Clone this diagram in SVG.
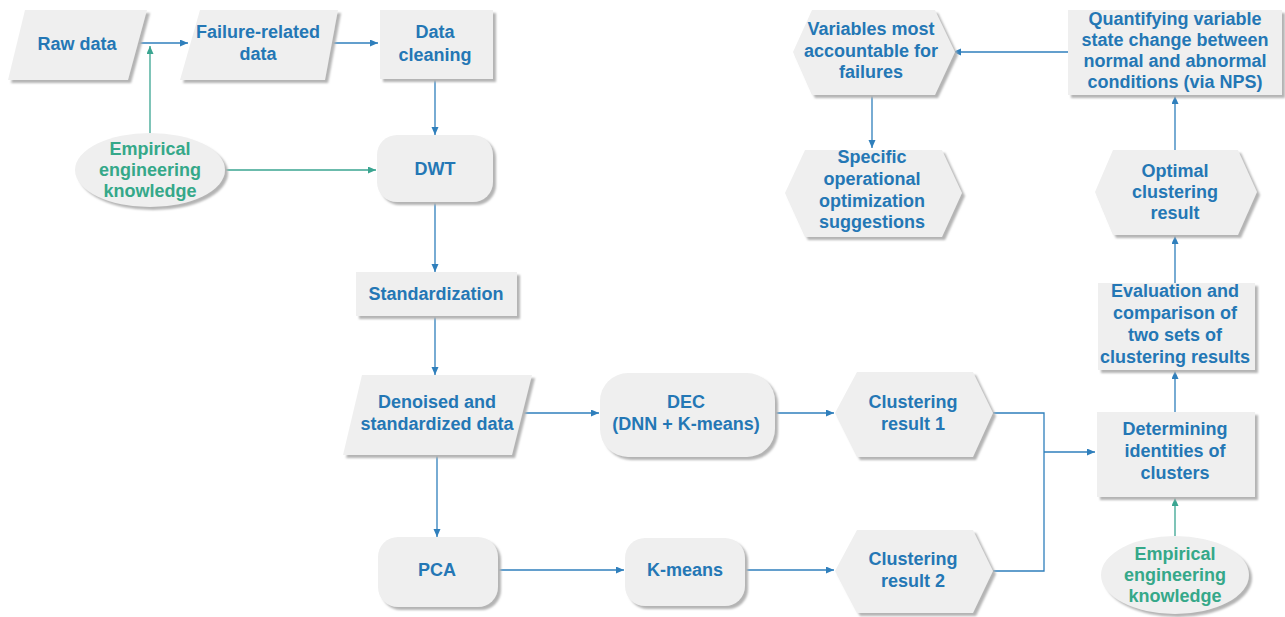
<svg xmlns="http://www.w3.org/2000/svg" width="1285" height="617" viewBox="0 0 1285 617">
<style>
.n{fill:#efefef;filter:url(#sh)}
.t{font-family:"Liberation Sans",Arial,sans-serif;font-weight:bold;font-size:18px;fill:#2477b5;text-anchor:middle}
.g{fill:#35a889}
.c{fill:none;stroke:#2f7fbc;stroke-width:1.3}
.ct{fill:none;stroke:#3aa591;stroke-width:1.3}
</style>
<defs>
<filter id="sh" x="-10%" y="-10%" width="125%" height="130%">
<feDropShadow dx="3" dy="3" stdDeviation="0.8" flood-color="#b4b4b4" flood-opacity="1"/>
</filter>
<marker id="ab" markerUnits="userSpaceOnUse" markerWidth="9" markerHeight="8" refX="8" refY="3.5" orient="auto"><path d="M0,0 L8,3.5 L0,7 z" fill="#2f7fbc"/></marker>
<marker id="at" markerUnits="userSpaceOnUse" markerWidth="9" markerHeight="8" refX="8" refY="3.5" orient="auto"><path d="M0,0 L8,3.5 L0,7 z" fill="#3aa591"/></marker>
</defs>
<rect width="1285" height="617" fill="#ffffff"/>
<g id="connectors">
<path class="c" d="M130,43 H188" marker-end="url(#ab)"/>
<path class="ct" d="M150,133 V46" marker-end="url(#at)"/>
<path class="c" d="M327,43 H378" marker-end="url(#ab)"/>
<path class="c" d="M435,79 V135" marker-end="url(#ab)"/>
<path class="ct" d="M225,170 H376" marker-end="url(#at)"/>
<path class="c" d="M435,202 V272" marker-end="url(#ab)"/>
<path class="c" d="M435,316 V375" marker-end="url(#ab)"/>
<path class="c" d="M522,413 H599" marker-end="url(#ab)"/>
<path class="c" d="M437,455 V537" marker-end="url(#ab)"/>
<path class="c" d="M498,570 H624" marker-end="url(#ab)"/>
<path class="c" d="M775,413 H834" marker-end="url(#ab)"/>
<path class="c" d="M745,570 H834" marker-end="url(#ab)"/>
<path class="c" d="M993,413 H1044 V571 H993"/>
<path class="c" d="M1044,452 H1095" marker-end="url(#ab)"/>
<path class="ct" d="M1175,536 V498" marker-end="url(#at)"/>
<path class="c" d="M1175,412 V371" marker-end="url(#ab)"/>
<path class="c" d="M1175,283 V236" marker-end="url(#ab)"/>
<path class="c" d="M1175,150 V96" marker-end="url(#ab)"/>
<path class="c" d="M1068,52 H953" marker-end="url(#ab)"/>
<path class="c" d="M872,95 V148" marker-end="url(#ab)"/>
</g>
<g id="raw-data">
<polygon class="n" points="25,10 147,10 128,80 8,80"/>
<text class="t" x="77" y="50">Raw data</text>
</g>
<g id="failure-related-data">
<polygon class="n" points="200,10 338,10 325,80 180,80"/>
<text class="t" x="258" y="38">Failure-related</text>
<text class="t" x="258" y="60">data</text>
</g>
<g id="data-cleaning">
<rect class="n" x="380" y="10" width="113" height="69"/>
<text class="t" x="435" y="38">Data</text>
<text class="t" x="435" y="61">cleaning</text>
</g>
<g id="empirical-1">
<ellipse class="n" cx="150" cy="170" rx="75" ry="37"/>
<text class="t g" x="150" y="155">Empirical</text>
<text class="t g" x="150" y="176">engineering</text>
<text class="t g" x="150" y="197">knowledge</text>
</g>
<g id="dwt">
<rect class="n" x="377" y="135" width="116" height="67" rx="20"/>
<text class="t" x="435" y="175">DWT</text>
</g>
<g id="standardization">
<rect class="n" x="356" y="272" width="161" height="44"/>
<text class="t" x="436" y="300">Standardization</text>
</g>
<g id="denoised">
<polygon class="n" points="362,375 532,375 512,455 343,455"/>
<text class="t" x="437" y="408">Denoised and</text>
<text class="t" x="437" y="430">standardized data</text>
</g>
<g id="dec">
<rect class="n" x="600" y="373" width="175" height="84" rx="28"/>
<text class="t" x="686" y="408">DEC</text>
<text class="t" x="686" y="430">(DNN + K-means)</text>
</g>
<g id="pca">
<rect class="n" x="378" y="537" width="120" height="70" rx="20"/>
<text class="t" x="437" y="576">PCA</text>
</g>
<g id="k-means">
<rect class="n" x="625" y="538" width="120" height="68" rx="20"/>
<text class="t" x="685" y="576">K-means</text>
</g>
<g id="clustering-1">
<polygon class="n" points="835,413 857,372 973,372 993,413 973,457 857,457"/>
<text class="t" x="913" y="408">Clustering</text>
<text class="t" x="913" y="430">result 1</text>
</g>
<g id="clustering-2">
<polygon class="n" points="835,571 857,530 973,530 993,571 973,613 857,613"/>
<text class="t" x="913" y="565">Clustering</text>
<text class="t" x="913" y="587">result 2</text>
</g>
<g id="determining">
<rect class="n" x="1097" y="412" width="158" height="85"/>
<text class="t" x="1175" y="435">Determining</text>
<text class="t" x="1175" y="457">identities of</text>
<text class="t" x="1175" y="479">clusters</text>
</g>
<g id="empirical-2">
<ellipse class="n" cx="1175" cy="575" rx="74" ry="39"/>
<text class="t g" x="1175" y="560">Empirical</text>
<text class="t g" x="1175" y="581">engineering</text>
<text class="t g" x="1175" y="602">knowledge</text>
</g>
<g id="evaluation">
<rect class="n" x="1098" y="283" width="157" height="87"/>
<text class="t" x="1175" y="297">Evaluation and</text>
<text class="t" x="1175" y="319">comparison of</text>
<text class="t" x="1175" y="341">two sets of</text>
<text class="t" x="1175" y="363">clustering results</text>
</g>
<g id="optimal">
<polygon class="n" points="1095,192 1113,150 1238,150 1257,192 1238,235 1113,235"/>
<text class="t" x="1175" y="177">Optimal</text>
<text class="t" x="1175" y="198">clustering</text>
<text class="t" x="1175" y="219">result</text>
</g>
<g id="quantifying">
<rect class="n" x="1068" y="10" width="214" height="85"/>
<text class="t" x="1175" y="25">Quantifying variable</text>
<text class="t" x="1175" y="46">state change between</text>
<text class="t" x="1175" y="67">normal and abnormal</text>
<text class="t" x="1175" y="88">conditions (via NPS)</text>
</g>
<g id="variables">
<polygon class="n" points="793,52 812,10 935,10 955,52 935,95 812,95"/>
<text class="t" x="871" y="35">Variables most</text>
<text class="t" x="871" y="57">accountable for</text>
<text class="t" x="871" y="78">failures</text>
</g>
<g id="specific">
<polygon class="n" points="785,193 805,150 942,150 962,193 942,237 805,237"/>
<text class="t" x="872" y="163">Specific</text>
<text class="t" x="872" y="185">operational</text>
<text class="t" x="872" y="207">optimization</text>
<text class="t" x="872" y="228">suggestions</text>
</g>
</svg>
